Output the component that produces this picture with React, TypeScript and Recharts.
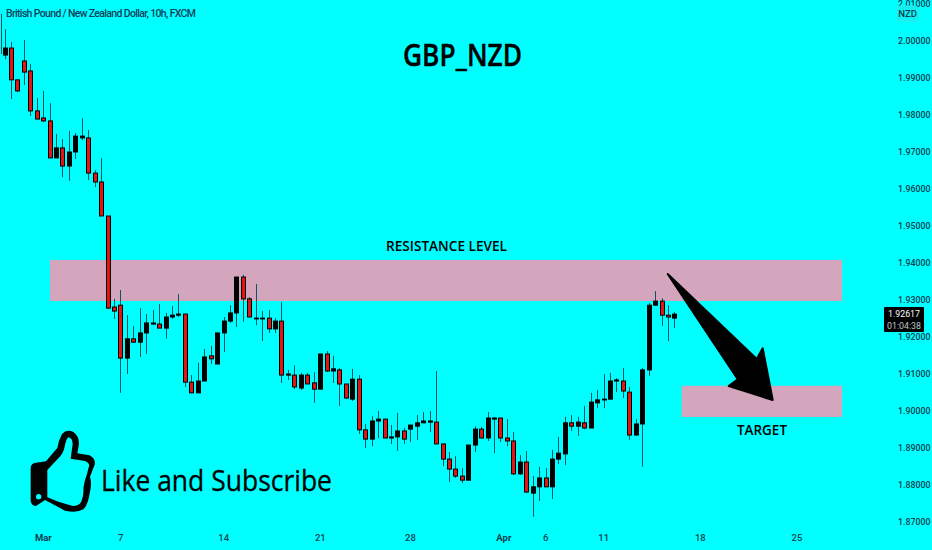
import React from "react";
import { ComposedChart, Bar, XAxis, YAxis, ReferenceArea } from "recharts";

const opens = [1.9965,1.9962,1.9981,1.9895,1.9946,1.9919,1.9811,1.9792,1.9784,1.9684,1.9711,1.9662,1.9700,1.9738,1.9738,1.9643,1.9619,1.9527,1.9281,1.9286,1.9143,1.9195,1.9186,1.9211,1.9235,1.9235,1.9224,1.9254,1.9259,1.9262,1.9078,1.9049,1.9081,1.9149,1.9127,1.9211,1.9243,1.9265,1.9362,1.9303,1.9249,1.9249,1.9251,1.9222,1.9243,1.9097,1.9097,1.9062,1.9097,1.9076,1.9059,1.9154,1.9108,1.9111,1.9073,1.9032,1.9086,1.8949,1.8924,1.8973,1.8978,1.8930,1.8930,1.8946,1.8951,1.8959,1.8968,1.8970,1.8970,1.8911,1.8870,1.8843,1.8824,1.8813,1.8908,1.8951,1.8927,1.8978,1.8981,1.8927,1.8919,1.8830,1.8862,1.8778,1.8795,1.8819,1.8795,1.8870,1.8884,1.8968,1.8959,1.8968,1.8954,1.9022,1.9030,1.9032,1.9081,1.9081,1.9051,1.8935,1.8965,1.9111,1.9286,1.9297,1.9259,1.9251];
const closes = [1.9965,1.9981,1.9895,1.9865,1.9916,1.9811,1.9789,1.9784,1.9684,1.9711,1.9662,1.9700,1.9743,1.9743,1.9643,1.9619,1.9527,1.9278,1.9270,1.9143,1.9195,1.9186,1.9211,1.9238,1.9238,1.9224,1.9254,1.9259,1.9262,1.9078,1.9049,1.9081,1.9146,1.9141,1.9211,1.9243,1.9265,1.9362,1.9303,1.9254,1.9251,1.9251,1.9222,1.9243,1.9097,1.9100,1.9065,1.9097,1.9073,1.9059,1.9154,1.9108,1.9114,1.9073,1.9035,1.9086,1.8949,1.8924,1.8973,1.8978,1.8927,1.8927,1.8946,1.8924,1.8962,1.8968,1.8973,1.8973,1.8911,1.8870,1.8843,1.8824,1.8813,1.8908,1.8951,1.8927,1.8981,1.8981,1.8927,1.8919,1.8830,1.8862,1.8781,1.8795,1.8819,1.8795,1.8870,1.8886,1.8968,1.8959,1.8970,1.8954,1.9024,1.9030,1.9032,1.9081,1.9084,1.9054,1.8935,1.8965,1.9111,1.9286,1.9297,1.9259,1.9254,1.92617];
const highs = [2.0073,2.0032,1.9997,1.9895,2.0003,1.9938,1.9846,1.9865,1.9832,1.9749,1.9735,1.9757,1.9751,1.9792,1.9759,1.9651,1.9684,1.9527,1.9303,1.9327,1.9259,1.9230,1.9278,1.9262,1.9273,1.9289,1.9265,1.9284,1.9316,1.9262,1.9097,1.9130,1.9168,1.9176,1.9211,1.9254,1.9286,1.9362,1.9368,1.9308,1.9343,1.9270,1.9273,1.9251,1.9295,1.9111,1.9124,1.9103,1.9103,1.9105,1.9154,1.9162,1.9149,1.9116,1.9073,1.9114,1.9097,1.8965,1.8986,1.9000,1.8978,1.8962,1.8995,1.8954,1.8962,1.8989,1.8997,1.9000,1.9108,1.8911,1.8889,1.8878,1.8846,1.8908,1.8959,1.8957,1.8997,1.8984,1.8981,1.8978,1.8943,1.8881,1.8892,1.8824,1.8849,1.8846,1.8895,1.8930,1.8984,1.8989,1.8984,1.9014,1.9049,1.9057,1.9100,1.9103,1.9089,1.9116,1.9065,1.8978,1.9116,1.9292,1.9324,1.9305,1.9286,1.9268];
const lows = [1.9965,1.9951,1.9843,1.9862,1.9881,1.9797,1.9789,1.9781,1.9684,1.9684,1.9632,1.9622,1.9681,1.9732,1.9624,1.9605,1.9527,1.9276,1.9249,1.9049,1.9100,1.9184,1.9146,1.9154,1.9232,1.9224,1.9195,1.9249,1.9254,1.9065,1.9049,1.9049,1.9081,1.9127,1.9127,1.9159,1.9238,1.9227,1.9241,1.9254,1.9232,1.9189,1.9211,1.9211,1.9076,1.9084,1.9059,1.9057,1.9073,1.9022,1.9059,1.9105,1.9076,1.9014,1.9032,1.9027,1.8938,1.8900,1.8905,1.8927,1.8927,1.8911,1.8892,1.8911,1.8916,1.8922,1.8968,1.8943,1.8911,1.8851,1.8808,1.8819,1.8805,1.8813,1.8889,1.8927,1.8919,1.8886,1.8916,1.8905,1.8827,1.8827,1.8778,1.8714,1.8757,1.8795,1.8762,1.8857,1.8854,1.8946,1.8933,1.8951,1.8954,1.9008,1.9008,1.9032,1.9051,1.9035,1.8922,1.8933,1.8849,1.9095,1.9286,1.9230,1.9189,1.9224];

const priceTicks = [2.01,2.0,1.99,1.98,1.97,1.96,1.95,1.94,1.93,1.92,1.91,1.9,1.89,1.88,1.87];
const dateTickPositions = [7,19,35,50,64,78.5,85,94,109,124];
const dateTickLabels = ["Mar","7","14","21","28","Apr","6","11","18","25"];

const data = opens.map((open, i) => ({
  idx: i === 0 ? 0.38 : i,
  open,
  close: closes[i],
  high: highs[i],
  low: lows[i],
}));

const FONT = "Roboto, sans-serif";
const AXIS_TEXT = "#0a3f50";
const ZONE = "#d4a6be";

function Candle(props: any) {
  const { x, y, width, height, payload } = props;
  const { open, close, high, low } = payload;
  const k = height / (high - low);
  const cx = Math.round(x + width / 2) + 0.5;
  const top = y + (high - Math.max(open, close)) * k;
  const bottom = y + (high - Math.min(open, close)) * k;
  const down = close < open;
  return (
    <g>
      <line x1={cx} x2={cx} y1={y} y2={y + height} stroke="#0b5560" strokeWidth={1} />
      {open !== close && (
        <rect
          x={cx - 2}
          y={top}
          width={4}
          height={Math.max(bottom - top, 0.8)}
          fill={down ? "#e41414" : "#000"}
          stroke="#000"
          strokeWidth={1}
        />
      )}
    </g>
  );
}

function DateTick(props: any) {
  const { x, payload } = props;
  const label = dateTickLabels[dateTickPositions.indexOf(payload.value)];
  return (
    <text x={x} y={541} textAnchor="middle" fontFamily={FONT} fontSize={9.5} fill={AXIS_TEXT} fontWeight={label === "Mar" || label === "Apr" ? 700 : 500}>
      {label}
    </text>
  );
}

export default function App() {
  return (
    <div style={{ position: "absolute", left: 0, top: 0, width: 932, height: 550, background: "#00FFFF", overflow: "hidden" }}>
      <ComposedChart width={932} height={550} data={data} margin={{ top: 0, right: 0, bottom: 0, left: 0 }}>
        <XAxis
          dataKey="idx"
          type="number"
          domain={[0.27, 137.2]}
          allowDataOverflow
          ticks={dateTickPositions}
          tick={<DateTick />}
          axisLine={false}
          tickLine={false}
          height={1}
          interval={0}
        />
        <YAxis
          type="number"
          orientation="right"
          domain={[1.8627, 2.01108]}
          allowDataOverflow
          ticks={priceTicks}
          tickFormatter={(v: number) => v.toFixed(5)}
          tick={{ fontFamily: FONT, fontSize: 8.8, fill: AXIS_TEXT, fontWeight: 500 }}
          axisLine={false}
          tickLine={false}
          tickMargin={10}
          width={50}
          interval={0}
        />
        <ReferenceArea x1={8.03} x2={131} y1={1.9297} y2={1.9408} fill={ZONE} fillOpacity={1} stroke="none" ifOverflow="visible" />
        <ReferenceArea x1={106.1} x2={131} y1={1.8984} y2={1.9068} fill={ZONE} fillOpacity={1} stroke="none" ifOverflow="visible" />
        <Bar dataKey={(d: any) => [d.low, d.high]} barSize={5} shape={<Candle />} isAnimationActive={false} />
      </ComposedChart>
      <svg width={932} height={550} style={{ position: "absolute", left: 0, top: 0, pointerEvents: "none" }}>
        <text x={6} y={17} fontFamily={FONT} fontSize={10.5} fontWeight={500} fill="#0c3f5c" textLength={190}>British Pound / New Zealand Dollar, 10h, FXCM</text>
        <text x={403} y={66} fontFamily="'Open Sans', sans-serif" fontSize={30} fontWeight={600} fill="#000" stroke="#000" strokeWidth={0.4} textLength={119} lengthAdjust="spacingAndGlyphs">GBP_NZD</text>
        <text x={386} y={251} fontFamily="'Open Sans', sans-serif" fontSize={14} fontWeight={600} fill="#000" textLength={121} lengthAdjust="spacingAndGlyphs">RESISTANCE LEVEL</text>
        <text x={737} y={435} fontFamily="'Open Sans', sans-serif" fontSize={14} fontWeight={600} fill="#000" textLength={50} lengthAdjust="spacingAndGlyphs">TARGET</text>
        <text x={101} y={491} fontFamily="'Open Sans', sans-serif" fontSize={30} fill="#000" stroke="#000" strokeWidth={0.3} textLength={231} lengthAdjust="spacingAndGlyphs">Like and Subscribe</text>

        <path
          d="M667.7 274 L756.7 359 L762.7 348.3 L772.7 400 L728.7 386 L737.7 379.3 Z"
          fill="#000"
          stroke="#000"
          strokeWidth={2}
          strokeLinejoin="round"
        />

        <g transform="translate(0 420) scale(0.3333)">
          <path
            fillRule="evenodd"
            fill="#000"
            d="M108 128 L138 124 L172 84 Q176 60 186 42 Q200 26 220 36 Q240 50 236 78 L232 100 L268 106 Q288 116 284 134 L270 170 Q276 190 270 215 Q264 255 250 268 Q230 280 195 272 L135 240 L108 258 Q92 256 92 240 L92 144 Q92 130 108 128 Z
               M142 150 L142 232 L175 245 L218 258 Q236 258 244 245 Q252 225 250 205 Q254 180 260 165 L268 135 Q264 124 250 122 L212 116 L218 72 Q218 54 205 52 Q198 58 194 80 Q190 100 175 115 Z"
          />
          <circle cx={116} cy={230} r={8} fill="#00FFFF" />
        </g>

        <rect x={897} y={6} width={21} height={15} rx={3} fill="#10f0f0" stroke="#30e6e6" />
        <text x={907.5} y={17} textAnchor="middle" fontFamily={FONT} fontSize={9.5} fontWeight={500} fill={AXIS_TEXT}>NZD</text>

        <rect x={884} y={307} width={40} height={25} rx={1} fill="#000" />
        <text x={904} y={317} textAnchor="middle" fontFamily={FONT} fontSize={8.8} fill="#fff">1.92617</text>
        <text x={904} y={329} textAnchor="middle" fontFamily={FONT} fontSize={8.8} fill="#bfc8c8">01:04:38</text>
      </svg>
    </div>
  );
}
